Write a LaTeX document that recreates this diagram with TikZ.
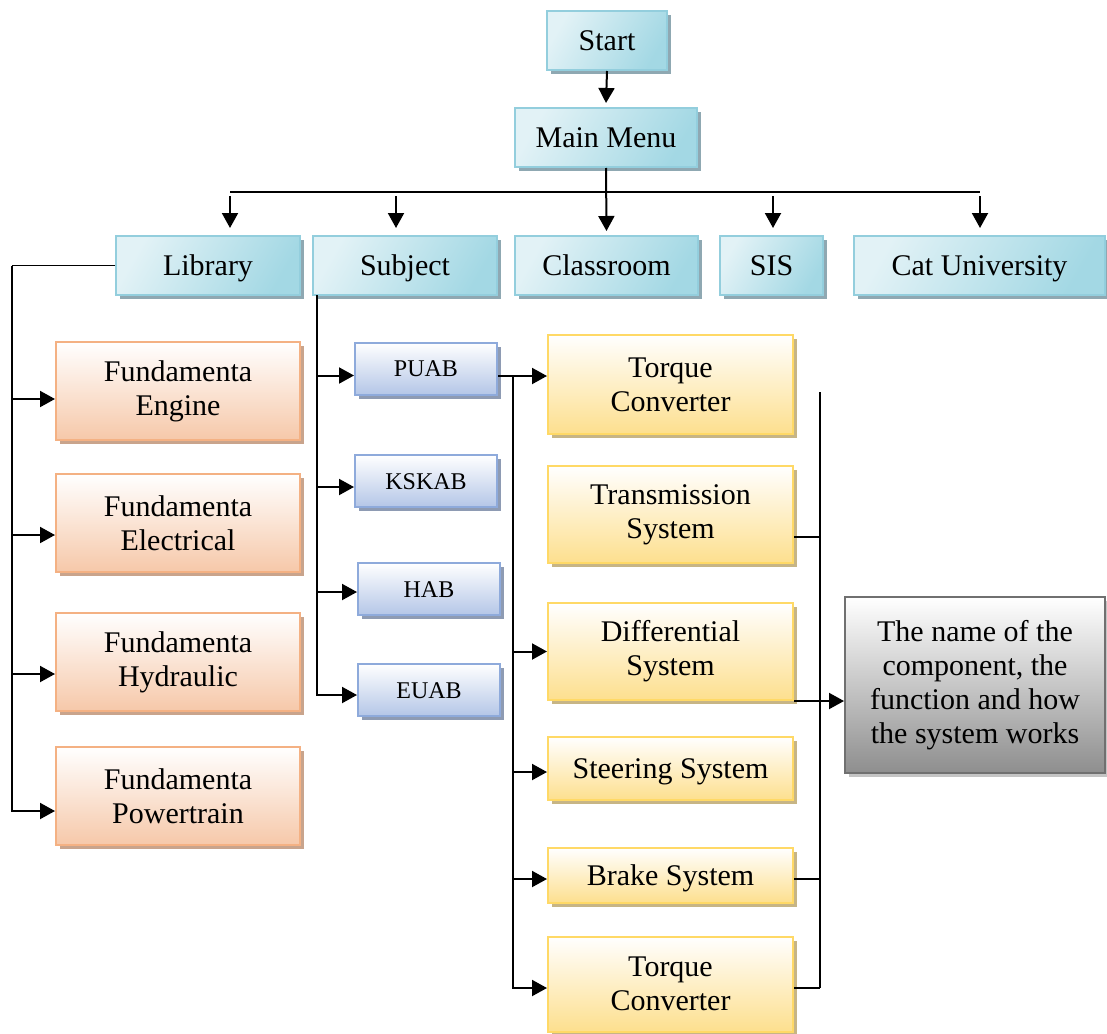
\documentclass[tikz,border=0pt]{standalone}
\usepackage{fontspec}
\setmainfont{Liberation Serif}
\usetikzlibrary{shadows,arrows.meta}
\definecolor{cyBorder}{HTML}{93CEDD}
\definecolor{cyDark}{HTML}{A3D8E4}
\definecolor{cyLight}{HTML}{E2F2F6}
\definecolor{cyShadow}{HTML}{8FA8B2}
\definecolor{orBorder}{HTML}{F4B183}
\definecolor{orBottom}{HTML}{F6C8A9}
\definecolor{orShadow}{HTML}{C9A48C}
\definecolor{blBorder}{HTML}{8EAADB}
\definecolor{blBottom}{HTML}{B4C6E7}
\definecolor{blShadow}{HTML}{8E9BB3}
\definecolor{yeBorder}{HTML}{FFD966}
\definecolor{yeBottom}{HTML}{FDDF8E}
\definecolor{yeShadow}{HTML}{C7B585}
\definecolor{grBorder}{HTML}{707070}
\definecolor{grBottom}{HTML}{8E8E8E}
\definecolor{grShadow}{HTML}{C4C4C4}
\begin{document}
\begin{tikzpicture}[x=1pt,y=-1pt,
  box/.style={rectangle, line width=2pt, inner sep=0pt, align=center,
    font=\fontsize{30}{34}\selectfont},
  oneline/.style={text height=20pt, text depth=0pt},
  cybox/.style={box, oneline, draw=cyBorder, left color=cyLight, right color=cyDark,
    shading angle=60,
    drop shadow={shadow xshift=4pt, shadow yshift=-4pt, fill=cyShadow, opacity=1},
    minimum height=59},
  orbox/.style={box, draw=orBorder, top color=white, bottom color=orBottom,
    drop shadow={shadow xshift=4pt, shadow yshift=-4pt, fill=orShadow, opacity=1},
    minimum width=244, minimum height=98},
  blbox/.style={box, draw=blBorder, top color=white, bottom color=blBottom,
    font=\fontsize{24}{28}\selectfont, text height=16pt, text depth=0pt,
    drop shadow={shadow xshift=4pt, shadow yshift=-4pt, fill=blShadow, opacity=1},
    minimum width=142, minimum height=52},
  yebox/.style={box, draw=yeBorder, top color=white, bottom color=yeBottom,
    drop shadow={shadow xshift=4pt, shadow yshift=-4pt, fill=yeShadow, opacity=1},
    minimum width=245},
  grbox/.style={box, draw=grBorder, top color=white, bottom color=grBottom,
    drop shadow={shadow xshift=4pt, shadow yshift=-4pt, fill=grShadow, opacity=1},
    minimum width=260, minimum height=176},
  arr/.style={line width=2pt, -{Triangle[length=15pt,width=16pt]}},
  ln/.style={line width=1.6pt}
]
\useasboundingbox (0,0) rectangle (1107,1033);
\fill[white] (0,0) rectangle (1107,1033);

% top
\node[cybox, minimum width=120] (start) at (607,40.5) {Start};
\node[cybox, minimum width=182] (mm) at (606,137.5) {Main Menu};

\node[cybox, minimum width=184] (lib) at (208,265.5) {Library};
\node[cybox, minimum width=184] (sub) at (405,265.5) {Subject};
\node[cybox, minimum width=183] (cls) at (606.5,265.5) {Classroom};
\node[cybox, minimum width=103] (sis) at (771.5,265.5) {SIS};
\node[cybox, minimum width=251] (cat) at (979.5,265.5) {Cat University};

% library children
\node[orbox] (eng) at (178,391) {Fundamenta\\Engine};
\node[orbox] (ele) at (178,523) {Fundamenta\\Electrical};
\node[orbox] (hyd) at (178,662) {Fundamenta\\Hydraulic};
\node[orbox] (pwr) at (178,796) {Fundamenta\\Powertrain};

% subject children
\node[blbox] (puab) at (426,368.5) {PUAB};
\node[blbox] (kskab) at (426,481) {KSKAB};
\node[blbox] (hab) at (429,589) {HAB};
\node[blbox] (euab) at (429,690) {EUAB};

% systems
\node[yebox, minimum height=99] (tc1) at (670.5,384.5) {Torque\\Converter};
\node[yebox, minimum height=97] (trans) at (670.5,514.5) {Transmission\\System};
\node[yebox, minimum height=97] (diff) at (670.5,651.5) {Differential\\System};
\node[yebox, oneline, minimum height=63] (steer) at (670.5,768.5) {Steering System};
\node[yebox, oneline, minimum height=55] (brake) at (670.5,875.5) {Brake System};
\node[yebox, minimum height=95] (tc2) at (670.5,984) {Torque\\Converter};

\node[grbox] (grey) at (975,685) {The name of the\\component, the\\function and how\\the system works};

% connectors top
\draw[arr] (start.south) -- ([yshift=4pt]mm.north);
\coordinate (bl) at (230,192);
\coordinate (br) at (980,192);
\draw[ln] (bl) -- (br);
\draw[arr] (mm.south) -- ([yshift=4pt]cls.north);
\coordinate (a1t) at (230,196); \coordinate (a1b) at (230,228);
\coordinate (a2t) at (396,196); \coordinate (a2b) at (396,228);
\coordinate (a4t) at (773,196); \coordinate (a4b) at (773,228);
\coordinate (a5t) at (980,196); \coordinate (a5b) at (980,228);
\draw[arr] (a1t) -- (a1b);
\draw[arr] (a2t) -- (a2b);
\draw[arr] (a4t) -- (a4b);
\draw[arr] (a5t) -- (a5b);

% library
\coordinate (lt) at (12,265.5);
\draw[ln] (lib.west) -- (lt);
\draw[arr] (lt) |- ([yshift=-8pt]eng.west);
\draw[arr] (lt) |- ([yshift=-12pt]ele.west);
\draw[arr] (lt) |- ([yshift=-12pt]hyd.west);
\draw[arr] (lt) |- ([yshift=-15pt]pwr.west);

% subject
\coordinate (st) at (317,295);
\draw[arr] (st) |- ([yshift=-7pt]puab.west);
\draw[arr] (st) |- ([yshift=-6pt]kskab.west);
\draw[arr] (st) |- ([yshift=-3pt]hab.west);
\draw[arr] (st) |- ([yshift=-5pt]euab.west);

% PUAB to systems
\draw[arr] ([yshift=-7.5pt]puab.east) -- ([yshift=-7.5pt]puab.east -| tc1.west);
\coordinate (pv) at (513,376);
\draw[ln] (pv) -- (513,988);
\draw[arr] (pv) |- (diff.west);
\draw[arr] (pv) |- ([yshift=-3.5pt]steer.west);
\draw[arr] (pv) |- ([yshift=-3.5pt]brake.west);
\draw[arr] (pv) |- ([yshift=-4pt]tc2.west);

% right collector
\coordinate (rt) at (820,392);
\coordinate (rb) at (820,988);
\draw[ln] (rt) -- (rb);
\draw[ln] ([yshift=-22.5pt]trans.east) -- ([yshift=-22.5pt]trans.east -| rt);
\draw[ln] ([yshift=-3.5pt]brake.east) -- ([yshift=-3.5pt]brake.east -| rt);
\draw[ln] ([yshift=-4pt]tc2.east) -- ([yshift=-4pt]tc2.east -| rt);
\draw[arr] (diff.south east) -- (diff.south east -| grey.west);
\end{tikzpicture}
\end{document}
